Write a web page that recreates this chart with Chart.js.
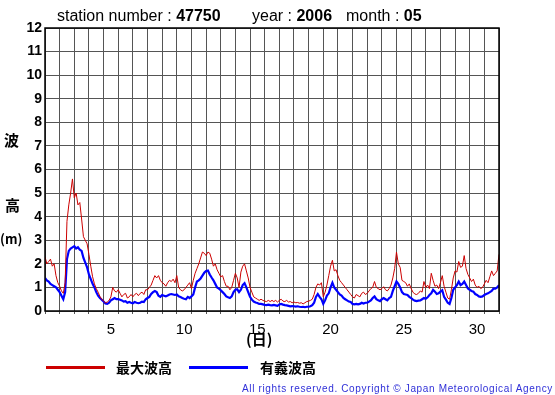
<!DOCTYPE html>
<html>
<head>
<meta charset="utf-8">
<script src="https://cdn.jsdelivr.net/npm/chart.js@4"></script>
<style>
body { margin: 0; background: #fff; }
#wrap { position: relative; width: 555px; height: 395px; font-family: "Liberation Sans", Arial, sans-serif; color: #000; }
#wrap canvas { position: absolute; left: 0; top: 0; }
.txt { position: absolute; white-space: nowrap; }
.jp { font-family: "Noto Sans CJK JP", sans-serif; font-weight: bold; }
.swatch { position: absolute; height: 3px; }
</style>
</head>
<body>
<div id="wrap">
  <canvas id="c" width="555" height="395"></canvas>
  <div class="txt" style="left:57px;top:7px;font-size:16px;">station number : <b>47750</b></div>
  <div class="txt" style="left:252px;top:7px;font-size:16px;">year : <b>2006</b></div>
  <div class="txt" style="left:346px;top:7px;font-size:16px;">month : <b>05</b></div>

  <div class="txt jp" style="left:4px;top:129px;font-size:15px;">波</div>
  <div class="txt jp" style="left:5px;top:194px;font-size:15px;">高</div>
  <div class="txt jp" style="left:0px;top:229px;font-size:13px;">(m)</div>
  <div class="txt jp" style="left:246px;top:328px;font-size:15px;">(日)</div>

  <div class="swatch" style="left:46px;top:366px;width:59px;background:#cc0000;"></div>
  <div class="txt jp" style="left:116px;top:357px;font-size:14px;">最大波高</div>
  <div class="swatch" style="left:189px;top:366px;width:59px;background:#0000ff;"></div>
  <div class="txt jp" style="left:260px;top:357px;font-size:14px;">有義波高</div>

  <div class="txt" style="left:242px;top:383px;font-size:10px;letter-spacing:0.65px;color:#3030d8;">All rights reserved. Copyright © Japan Meteorological Agency</div>
</div>
<script>
// 3-hourly values, day 1 00h to day 31 24h (m)
const stepHours = 3;

const maxWave = [
  2.3, 2.0, 2.1, 2.2, 1.9, 2.0, 1.5, 1.2,
  1.05, 0.85, 0.75, 1.2, 3.8, 4.5, 5.0, 5.6,
  4.8, 5.0, 4.5, 4.6, 3.9, 3.15, 3.0, 2.85,
  2.4, 1.9, 1.45, 1.15, 0.95, 0.8, 0.62, 0.5,
  0.42, 0.35, 0.38, 0.45, 0.6, 1.0, 0.85, 0.8,
  0.9, 0.75, 0.6, 0.7, 0.75, 0.55, 0.6, 0.7,
  0.6, 0.7, 0.75, 0.65, 0.75, 0.8, 0.7, 0.9,
  0.9, 1.0, 1.1, 1.3, 1.5, 1.4, 1.5, 1.3,
  1.2, 1.15, 1.05, 1.2, 1.3, 1.25, 1.35, 1.2,
  1.5, 1.0, 0.9, 0.85, 0.9, 1.0, 1.1, 1.2,
  0.95, 1.3, 1.6, 1.8, 2.0, 2.25, 2.5, 2.45,
  2.35, 2.5, 2.45, 2.2, 1.9, 2.0, 1.75, 1.6,
  1.45, 1.5, 1.25, 1.05, 1.05, 0.9, 1.0, 1.3,
  1.6, 1.4, 1.0, 1.65, 1.9, 2.0, 1.7, 1.4,
  1.0, 0.8, 0.6, 0.55, 0.5, 0.45, 0.5, 0.45,
  0.42, 0.4, 0.45, 0.4, 0.45, 0.4, 0.45, 0.38,
  0.45, 0.5, 0.42, 0.4, 0.45, 0.38, 0.4, 0.35,
  0.38, 0.35, 0.36, 0.33, 0.35, 0.3, 0.35, 0.4,
  0.42, 0.45, 0.5, 0.7, 1.0, 1.15, 1.1, 1.2,
  0.6, 0.8, 1.1, 1.5, 1.9, 2.15, 1.7, 1.75,
  1.5, 1.3, 1.2, 1.1, 1.0, 0.9, 0.8, 0.7,
  0.6, 0.55, 0.7, 0.65, 0.6, 0.75, 0.8, 0.7,
  0.75, 0.85, 0.95, 1.0, 1.25, 1.0, 0.95, 0.9,
  0.95, 1.03, 0.9, 0.85, 0.95, 1.1, 1.4, 1.8,
  2.5, 2.0, 1.85, 1.3, 1.25, 1.2, 1.05, 1.15,
  0.95, 0.8, 0.72, 0.7, 0.75, 0.85, 0.8, 1.25,
  1.0, 1.1, 0.95, 1.6, 1.3, 1.05, 1.1, 0.95,
  1.2, 1.5, 1.05, 0.8, 0.55, 0.5, 0.9, 1.4,
  1.7, 1.65, 2.1, 1.85, 1.9, 2.35, 1.8, 1.55,
  1.4, 1.25, 1.35, 1.1, 1.0, 1.05, 0.95, 1.0,
  1.15, 1.3, 1.2, 1.45, 1.7, 1.5, 1.6, 1.7,
  2.4
];

const sigWave = [
  1.4, 1.3, 1.25, 1.15, 1.1, 1.05, 1.0, 0.9,
  0.8, 0.65, 0.5, 0.8, 2.2, 2.55, 2.65, 2.7,
  2.75, 2.65, 2.7, 2.6, 2.55, 2.25, 2.05, 1.85,
  1.55, 1.35, 1.15, 1.0, 0.8, 0.65, 0.55, 0.48,
  0.4, 0.32, 0.3, 0.35, 0.45, 0.5, 0.55, 0.5,
  0.5, 0.48, 0.45, 0.4, 0.42, 0.35, 0.38, 0.35,
  0.33, 0.38, 0.35, 0.33, 0.35, 0.4, 0.38, 0.5,
  0.55, 0.6, 0.72, 0.8, 0.85, 0.8, 0.65, 0.6,
  0.68, 0.65, 0.62, 0.66, 0.7, 0.72, 0.7, 0.68,
  0.7, 0.62, 0.59, 0.55, 0.52, 0.5, 0.6, 0.55,
  0.62, 0.7, 1.0, 1.25, 1.3, 1.38, 1.5, 1.62,
  1.7, 1.72, 1.55, 1.42, 1.3, 1.15, 1.0, 0.95,
  0.88, 0.8, 0.72, 0.62, 0.58, 0.55, 0.62, 0.8,
  0.9, 0.92, 0.8, 0.9, 1.1, 1.18, 1.0, 0.8,
  0.6, 0.48, 0.4, 0.36, 0.34, 0.3, 0.3, 0.28,
  0.26, 0.25, 0.27, 0.25, 0.24, 0.26, 0.24, 0.22,
  0.28, 0.3, 0.27, 0.25, 0.24, 0.22, 0.2, 0.21,
  0.2, 0.19, 0.2, 0.18, 0.17, 0.18, 0.16, 0.18,
  0.18, 0.2, 0.25, 0.35, 0.6, 0.72, 0.6, 0.5,
  0.3, 0.45, 0.65, 0.75, 1.0, 1.2, 1.0, 0.9,
  0.8, 0.7, 0.65, 0.55, 0.5, 0.45, 0.4, 0.38,
  0.3, 0.28, 0.3, 0.28, 0.3, 0.35, 0.32, 0.35,
  0.35, 0.4, 0.45, 0.55, 0.62, 0.5, 0.45, 0.42,
  0.5, 0.55, 0.5, 0.45, 0.55, 0.6, 0.85, 1.05,
  1.25, 1.15, 1.0, 0.8, 0.72, 0.7, 0.68, 0.6,
  0.55, 0.48, 0.44, 0.42, 0.44, 0.45, 0.5, 0.55,
  0.52, 0.58, 0.68, 0.75, 0.9, 0.82, 0.72, 0.75,
  0.82, 0.88, 0.6, 0.48, 0.35, 0.3, 0.55, 0.9,
  1.0, 1.1, 1.25, 1.1, 1.15, 1.25, 1.1, 0.95,
  0.9, 0.85, 0.82, 0.72, 0.68, 0.62, 0.6, 0.62,
  0.68, 0.72, 0.75, 0.8, 0.85, 0.95, 0.95, 1.0,
  1.1
];

const dayLabels = [5, 10, 15, 20, 25, 30];
const daysInMonth = 31;
const yMax = 12;

// x in days since day 1 00h
const toPoints = arr => arr.map((v, i) => ({ x: i * stepHours / 24, y: v }));

const frame = {
  id: 'frame',
  afterDraw(chart) {
    const { ctx, chartArea: a } = chart;
    ctx.save();
    ctx.strokeStyle = '#000';
    ctx.lineWidth = 1.5;
    ctx.strokeRect(a.left, a.top, a.right - a.left, a.bottom - a.top);
    ctx.restore();
  }
};

new Chart(document.getElementById('c'), {
  type: 'line',
  data: {
    datasets: [
      { label: '最大波高', data: toPoints(maxWave), borderColor: '#cc0000', borderWidth: 1, pointRadius: 0, tension: 0 },
      { label: '有義波高', data: toPoints(sigWave), borderColor: '#0000ff', borderWidth: 2.2, pointRadius: 0, tension: 0 }
    ]
  },
  options: {
    responsive: false,
    animation: false,
    layout: { padding: { top: 28, right: 56, left: 0, bottom: 0 } },
    plugins: { legend: { display: false }, tooltip: { enabled: false } },
    scales: {
      x: {
        type: 'linear', min: 0, max: daysInMonth,
        ticks: { stepSize: 1, display: false },
        grid: { color: '#555', lineWidth: 1, tickLength: 3 },
        border: { display: false },
        afterFit: s => { s.height = 0; }
      },
      xl: {
        type: 'linear', position: 'bottom', min: 0, max: daysInMonth,
        grid: { display: false },
        border: { display: false },
        afterBuildTicks: s => { s.ticks = dayLabels.map(d => ({ value: d - 0.5 })); },
        ticks: {
          autoSkip: false, maxRotation: 0, padding: 2,
          color: '#000', font: { family: 'Liberation Sans', size: 15 },
          callback: v => String(Math.round(v + 0.5))
        },
        afterFit: s => { s.height = 84; }
      },
      y: {
        min: 0, max: yMax,
        ticks: { stepSize: 1, padding: 3, color: '#000', font: { family: 'Liberation Sans', size: 14, weight: 'bold' } },
        grid: { color: '#555', lineWidth: 1, drawTicks: false },
        border: { display: false },
        afterFit: s => { s.width = 45; }
      }
    }
  },
  plugins: [frame]
});
</script>
</body>
</html>
